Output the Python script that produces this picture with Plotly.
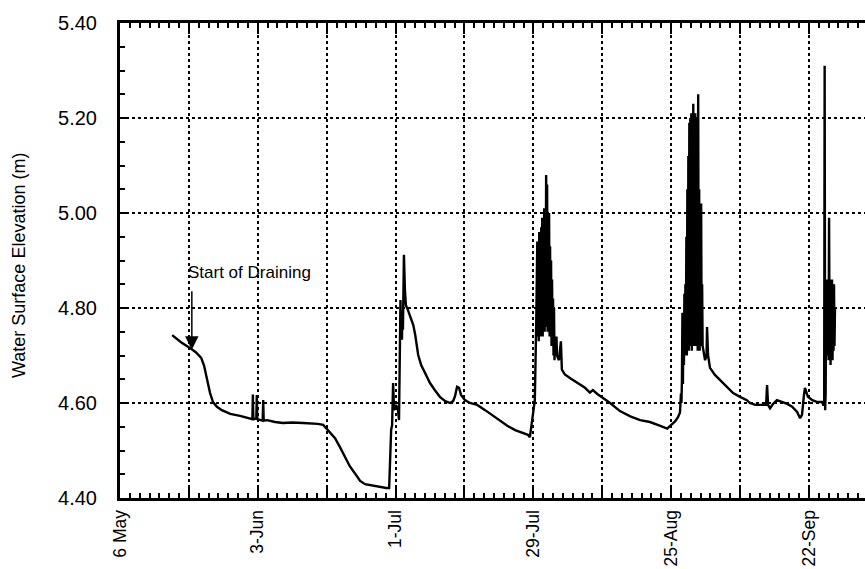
import plotly.graph_objects as go

# Days counted from 6 May; water surface elevation in metres.
days_spring = [10.6, 12.4, 14.2, 15.4, 16.5, 17.1, 17.5, 17.9, 18.3, 18.9, 19.7, 20.7,
               22.4, 24.4, 26.4, 26.9, 27.0, 27.1, 27.7, 27.8, 27.9, 28.5, 29.0, 29.1,
               29.2, 29.9, 31.5, 33.1, 35.0, 37.2, 39.0, 40.2, 41.3, 42.7, 43.7, 44.7,
               45.7, 46.7, 47.8, 48.8, 49.8, 50.8, 52.4, 54.1, 54.7]
elev_spring = [4.743, 4.728, 4.716, 4.707, 4.695, 4.678, 4.659, 4.638, 4.621, 4.602, 4.592, 4.585,
               4.577, 4.573, 4.568, 4.566, 4.618, 4.566, 4.567, 4.617, 4.566, 4.565, 4.563, 4.606,
               4.563, 4.564, 4.560, 4.558, 4.559, 4.558, 4.557, 4.556, 4.554, 4.539, 4.526, 4.507,
               4.488, 4.467, 4.451, 4.436, 4.429, 4.427, 4.425, 4.421, 4.421]

days_july = [54.9, 55.1, 55.3, 55.5, 55.7, 56.1, 56.5, 56.7, 56.9, 57.0, 57.1, 57.2,
             57.3, 57.4, 57.5, 57.7, 57.9, 58.1, 58.5, 58.9, 59.6, 60.0, 60.6, 61.2,
             62.0, 63.0, 64.0, 65.0, 66.1, 67.1, 67.7, 68.1, 68.5, 68.9, 69.3, 70.1,
             71.1, 72.6, 74.2, 75.6, 77.2, 78.7, 80.3, 81.7, 82.9, 83.3, 83.5, 83.7,
             83.9, 84.1, 84.3, 84.6]
elev_july = [4.512, 4.543, 4.554, 4.642, 4.585, 4.596, 4.585, 4.564, 4.733, 4.817, 4.743, 4.785,
             4.733, 4.796, 4.754, 4.912, 4.838, 4.806, 4.796, 4.783, 4.764, 4.743, 4.701, 4.680,
             4.663, 4.642, 4.627, 4.613, 4.604, 4.600, 4.604, 4.615, 4.634, 4.632, 4.617, 4.606,
             4.600, 4.596, 4.585, 4.575, 4.564, 4.552, 4.543, 4.537, 4.533, 4.528, 4.543, 4.564,
             4.575, 4.596, 4.606, 4.775]

# Oscillating record at the end of July
days_july_waves = [84.8, 84.9, 85.0, 85.1, 85.2, 85.3, 85.4, 85.5, 85.6, 85.7, 85.8, 85.9,
                   86.0, 86.1, 86.2, 86.3, 86.4, 86.5, 86.6, 86.7, 86.8, 86.9, 87.0, 87.1,
                   87.2, 87.3, 87.4, 87.5, 87.6, 87.7, 87.8, 87.9, 88.0, 88.1, 88.2, 88.3, 88.4]
elev_july_waves = [4.94, 4.74, 4.92, 4.73, 4.96, 4.75, 4.90, 4.74, 4.97, 4.76, 4.99, 4.74,
                   4.95, 4.77, 5.01, 4.75, 4.98, 4.76, 5.08, 4.78, 5.06, 4.75, 4.97, 4.77,
                   5.00, 4.74, 4.93, 4.76, 4.90, 4.72, 4.86, 4.73, 4.82, 4.70, 4.80, 4.69, 4.74]

days_august = [88.5, 88.7, 88.8, 89.2, 89.6, 89.8, 90.4, 91.5, 92.9, 94.5, 95.5, 96.1,
               97.0, 98.2, 99.6, 101.6, 103.7, 105.7, 107.7, 109.8, 111.2, 111.8, 112.8, 113.4,
               113.8, 114.0, 114.1]
elev_august = [4.72, 4.74, 4.70, 4.69, 4.73, 4.67, 4.66, 4.652, 4.643, 4.632, 4.622, 4.627,
               4.619, 4.611, 4.600, 4.583, 4.572, 4.564, 4.560, 4.552, 4.546, 4.552, 4.561, 4.570,
               4.580, 4.620, 4.600]

# Oscillating record at the end of August
days_august_waves = [114.2, 114.3, 114.4, 114.5, 114.6, 114.7, 114.8, 114.9, 115.0, 115.1, 115.2, 115.3,
                     115.4, 115.5, 115.6, 115.7, 115.8, 115.9, 116.0, 116.1, 116.2, 116.3, 116.4, 116.5,
                     116.6, 116.7, 116.8, 116.9, 117.0, 117.1, 117.2, 117.3, 117.4, 117.5, 117.6, 117.7,
                     117.8, 117.9, 118.0, 118.1, 118.2, 118.3, 118.4]
elev_august_waves = [4.65, 4.79, 4.64, 4.78, 4.68, 4.83, 4.70, 4.85, 4.71, 4.95, 4.70, 5.05,
                     4.72, 5.12, 4.71, 5.19, 4.73, 5.20, 4.72, 5.21, 4.71, 5.20, 4.73, 5.23,
                     4.72, 5.19, 4.74, 5.21, 4.72, 5.20, 4.73, 5.18, 4.71, 5.25, 4.72, 5.05,
                     4.71, 4.93, 4.72, 5.02, 4.73, 4.85, 4.72]

days_september = [118.9, 119.2, 119.3, 119.5, 119.9, 120.9, 122.0, 123.4, 124.6, 126.0, 127.4, 128.0,
                  129.1, 130.1, 131.3, 131.5, 131.7, 132.1, 132.7, 133.5, 134.6, 135.6, 136.6, 137.6,
                  138.2, 138.6, 139.0, 139.2, 139.8, 140.7, 141.7, 142.7, 142.9]
elev_september = [4.690, 4.700, 4.760, 4.701, 4.674, 4.659, 4.648, 4.632, 4.621, 4.613, 4.606, 4.600,
                  4.596, 4.596, 4.596, 4.638, 4.596, 4.589, 4.598, 4.606, 4.602, 4.598, 4.592, 4.581,
                  4.568, 4.575, 4.617, 4.632, 4.613, 4.606, 4.602, 4.602, 4.596]

# Oscillating record in late September
days_september_waves = [143.1, 143.2, 143.3, 143.4, 143.5, 143.6, 143.7, 143.8, 143.9, 144.0, 144.1,
                        144.2, 144.3, 144.4, 144.5, 144.6, 144.7, 144.8, 144.9, 145.0, 145.1, 145.2, 145.3]
elev_september_waves = [4.596, 5.31, 4.585, 4.62, 4.85, 4.70, 4.86, 4.71, 4.84, 4.69, 4.99,
                        4.72, 4.86, 4.68, 4.85, 4.70, 4.86, 4.69, 4.84, 4.71, 4.85, 4.72, 4.80]

tick_days = [0, 14, 28, 42, 56, 70, 84, 98, 112, 126, 140]
tick_labels = ["6 May", "", "3-Jun", "", "1-Jul", "", "29-Jul", "", "25-Aug", "", "22-Sep"]
elev_ticks = [4.4, 4.6, 4.8, 5.0, 5.2, 5.4]
elev_labels = ["4.40", "4.60", "4.80", "5.00", "5.20", "5.40"]

days = (days_spring + days_july + days_july_waves + days_august + days_august_waves
        + days_september + days_september_waves)
elev = (elev_spring + elev_july + elev_july_waves + elev_august + elev_august_waves
        + elev_september + elev_september_waves)

fig = go.Figure()
fig.add_trace(go.Scatter(x=days, y=elev, mode="lines",
                         line=dict(color="black", width=2.4), showlegend=False))

font = "Liberation Sans, Arial, Helvetica, sans-serif"

fig.update_layout(
    width=865, height=569,
    margin=dict(l=120, r=0, t=23, b=71, pad=0),
    paper_bgcolor="white", plot_bgcolor="white",
    font=dict(family=font, color="black"),
    xaxis=dict(
        range=[0, 151.4], tickmode="array", tickvals=tick_days, ticktext=tick_labels,
        tickangle=-90, tickfont=dict(size=17.5, family=font),
        ticks="inside", ticklen=11, tickwidth=1.5, tickcolor="black",
        ticklabelstandoff=2, automargin=False,
        minor=dict(tickmode="linear", tick0=0, dtick=2, ticks="inside", ticklen=5,
                   tickwidth=1.5, tickcolor="black", showgrid=False),
        showgrid=True, gridcolor="black", gridwidth=1.5, griddash="dot",
        showline=True, linecolor="black", linewidth=3, mirror="ticks",
        zeroline=False,
    ),
    yaxis=dict(
        range=[4.4, 5.4], tickmode="array", tickvals=elev_ticks, ticktext=elev_labels,
        tickfont=dict(size=20, family=font),
        ticks="inside", ticklen=8, tickwidth=1.5, tickcolor="black",
        ticklabelstandoff=16, automargin=False,
        minor=dict(tickmode="linear", tick0=4.4, dtick=0.05, ticks="inside", ticklen=5,
                   tickwidth=1.5, tickcolor="black", showgrid=False),
        showgrid=True, gridcolor="black", gridwidth=1.5, griddash="dot",
        showline=True, linecolor="black", linewidth=3, mirror=False,
        zeroline=False,
    ),
    annotations=[
        dict(text="Water Surface Elevation (m)", textangle=-90, showarrow=False,
             xref="paper", yref="paper", x=-0.1356, y=0.4905,
             xanchor="center", yanchor="middle", font=dict(size=18, family=font)),
        dict(text="Start of Draining", showarrow=False, x=26.4, y=4.874,
             xanchor="center", yanchor="middle", font=dict(size=17, family=font)),
        dict(text="", x=14.6, y=4.712, ax=0, ay=-60, showarrow=True,
             arrowhead=2, arrowsize=1.8, arrowwidth=1.5, arrowcolor="black"),
    ],
)

fig.write_html("out.html")
